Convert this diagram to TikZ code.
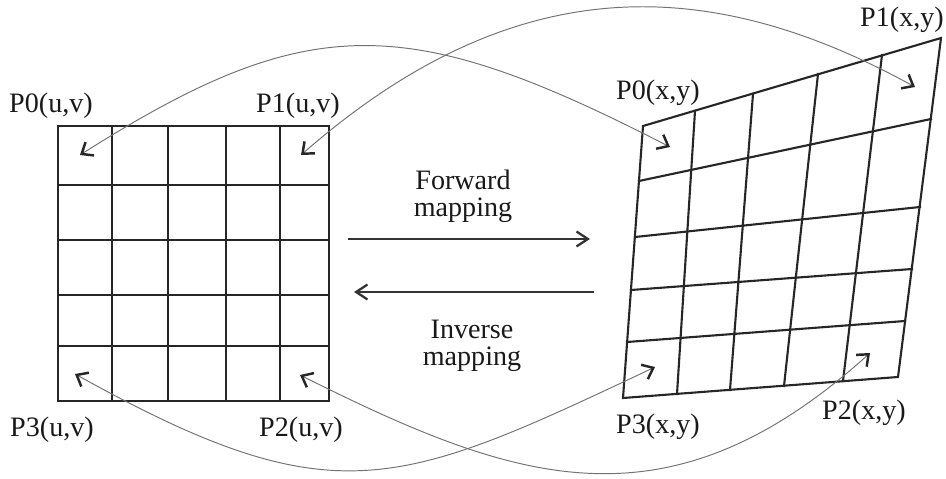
\documentclass[tikz,border=0pt]{standalone}
\usepackage{fontspec}
\setmainfont{Liberation Serif}
\usetikzlibrary{arrows.meta}
\begin{document}
\begin{tikzpicture}[x=0.02cm,y=-0.02cm,
  gridline/.style={line width=1.2pt, draw=black!85, line cap=rect},
  mapcurve/.style={line width=0.55pt, draw=black!55,
    {Straight Barb[length=5.5pt,width=9pt,line width=1.4pt,color=black!85]}-{Straight Barb[length=5.5pt,width=9pt,line width=1.4pt,color=black!85]}},
  maparrow/.style={line width=1.1pt, draw=black!80,
    -{Straight Barb[length=6.5pt,width=8.5pt,line width=1.3pt]}},
  lbl/.style={font=\fontsize{16}{15.4}\selectfont, inner sep=0pt, anchor=base, text=black!90},
  lbltwo/.style={font=\fontsize{16}{15.4}\selectfont, inner sep=0pt, align=center, text=black!90}
]
\useasboundingbox (0,0) rectangle (946,479);

% ---- left (u,v) grid ----
\draw[gridline] (58,126) rectangle (329,401);
\foreach \x in {112,168,226,280} \draw[gridline] (\x,126) -- (\x,401);
\foreach \y in {185,240,295,346} \draw[gridline] (58,\y) -- (329,\y);

% ---- right (x,y) grid ----
\draw[gridline] (643,126) -- (941,38) -- (898,377) -- (623,398) -- cycle;
\draw[gridline] (639,181) -- (931,119);
\draw[gridline] (635,237) -- (920,207);
\draw[gridline] (631,290) -- (912,269);
\draw[gridline] (627,342) -- (905,321);
\draw[gridline] (695,111) -- (677,394);
\draw[gridline] (753,94) -- (730,390);
\draw[gridline] (818,74) -- (784,386);
\draw[gridline] (882,55) -- (843,381);

% ---- labels ----
\node[lbl] (lu0) at (51,113) {P0(u,v)};
\node[lbl] (lu1) at (298,113) {P1(u,v)};
\node[lbl] (lu3) at (52,436) {P3(u,v)};
\node[lbl] (lu2) at (301,436) {P2(u,v)};
\node[lbl] (lx0) at (658,100) {P0(x,y)};
\node[lbl] (lx1) at (902,27) {P1(x,y)};
\node[lbl] (lx3) at (658,433) {P3(x,y)};
\node[lbl] (lx2) at (864,419) {P2(x,y)};

\node[lbltwo] (fwd) at (463,196) {Forward\\mapping};
\node[lbltwo] (inv) at (472,346) {Inverse\\mapping};

% ---- corner points ----
\coordinate (uP0) at (80,155);
\coordinate (uP1) at (301,155);
\coordinate (uP3) at (75,374);
\coordinate (uP2) at (300,375);
\coordinate (xP0) at (670,147);
\coordinate (xP1) at (915,87);
\coordinate (xP3) at (655,367);
\coordinate (xP2) at (870,353);

% ---- mapping curves ----
\draw[mapcurve] (uP0) .. controls (308.6,10.2) and (406.6,11.7) .. (xP0);
\draw[mapcurve] (uP1) .. controls (513.8,-31) and (707.5,-27) .. (xP1);
\draw[mapcurve] (uP3) .. controls (333.5,517.3) and (396.5,489.2) .. (xP3);
\draw[mapcurve] (uP2) .. controls (516,483) and (667.2,535.5) .. (xP2);

% ---- forward / inverse arrows ----
\coordinate (fa) at (348,239);
\coordinate (fb) at (590,239);
\coordinate (ia) at (594,292);
\coordinate (ib) at (354,292);
\draw[maparrow] (fa) -- (fb);
\draw[maparrow] (ia) -- (ib);
\end{tikzpicture}
\end{document}
